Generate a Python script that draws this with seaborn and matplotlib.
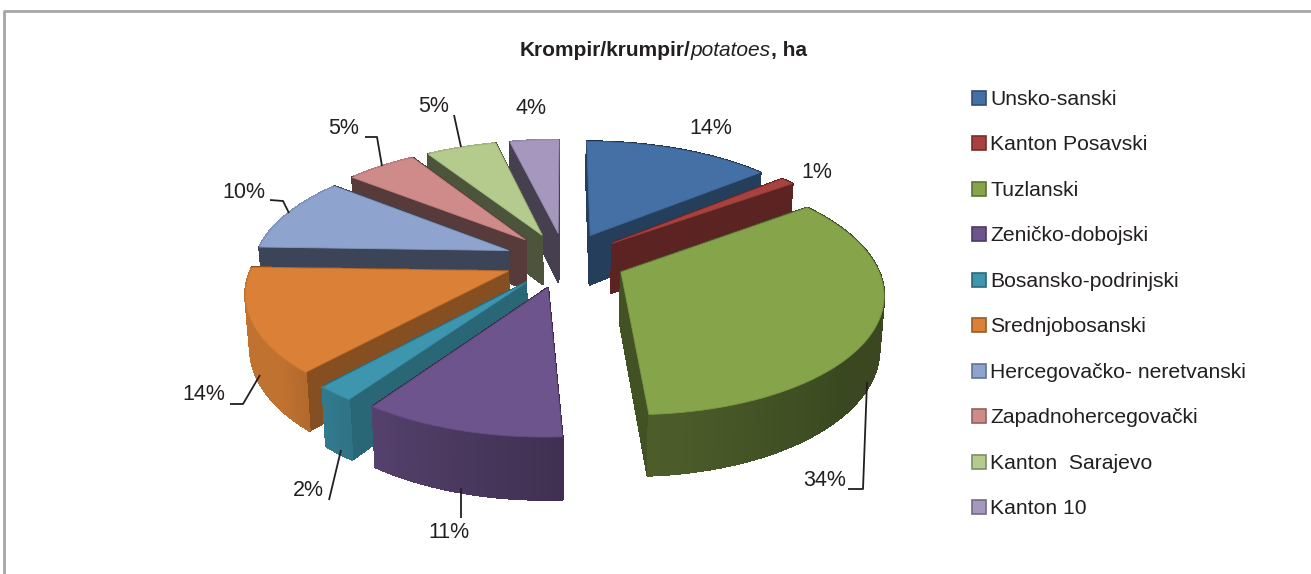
import numpy as np
import matplotlib
matplotlib.use("Agg")
import matplotlib.pyplot as plt
import seaborn as sns
from matplotlib.collections import PolyCollection
from matplotlib.patches import Patch

cantons = ["Unsko-sanski", "Kanton Posavski", "Tuzlanski", "Zeničko-dobojski",
           "Bosansko-podrinjski", "Srednjobosanski", "Hercegovačko- neretvanski",
           "Zapadnohercegovački", "Kanton  Sarajevo", "Kanton 10"]
# labels show them rounded
shares = [14, 1, 34.1, 10.5, 2, 13.9, 10.2, 5.3, 5.3, 3.7]

top_colors = ["#4470A5", "#A8423F", "#86A44A", "#6E548D", "#3D96AE",
              "#DA8137", "#8EA4CF", "#CF8B89", "#B5CB8E", "#A597BD"]
side_shade = [0.55, 0.54, 0.50, 0.50, 0.68, 0.61, 0.42, 0.42, 0.42, 0.42]

# label centre and leader line, in figure pixels
label_pos = [(711, 128), (817, 172), (825, 480), (449, 533), (308, 491),
             (204, 395), (244, 192), (344, 128), (434, 107), (531, 109)]
leaders = [None, None,
           [(848, 489), (863, 489), (867, 382)],
           [(461, 518), (461, 488)],
           [(329, 500), (341, 450)],
           [(230, 404), (243, 404), (260, 375)],
           [(270, 200), (283, 201), (289, 213)],
           [(365, 137), (377, 137), (382, 166)],
           [(454, 115), (461, 147)],
           None]

# fake 3d camera, fitted on the picture
CX, CY = 565, 260
SX, SY = 254, 116
PERSP = 0.157
DEPTH = 50.5
TXT = "#231F20"

sns.set_theme(style="white")
plt.rcParams["font.family"] = ["Liberation Sans", "DejaVu Sans"]


def project(x, y, low=False):
    s = 1 / (1 + PERSP * y)
    sx = SX * x * s
    if low:
        sx = sx * 0.985
    return CX + sx, CY - SY * y * s + (DEPTH * s if low else 0)


def outer_shade(clock):
    return np.interp(clock, [0, 130, 176, 216, 230, 360],
                     [0.43, 0.43, 0.57, 0.78, 0.88, 0.88])


def darker(color, k):
    return tuple(c * k for c in matplotlib.colors.to_rgb(color))


fig = plt.figure(figsize=(13.11, 5.74), dpi=100, facecolor="white")
ax = fig.add_axes([0, 0, 1, 1])

# the pie gives the angles and the exploded centres
wedges, _ = ax.pie(shares, startangle=90, counterclock=False,
                   explode=[0.24] * len(shares), radius=1)
for w in wedges:
    w.set_visible(False)

ax.set_aspect("auto")
ax.set_xlim(0, 1311)
ax.set_ylim(574, 0)
ax.axis("off")

order = sorted(range(len(wedges)), key=lambda i: -wedges[i].center[1])
for n, i in enumerate(order):
    w = wedges[i]
    gx, gy = w.center
    a = np.radians(np.linspace(w.theta1, w.theta2, 60))
    rx, ry = gx + w.r * np.cos(a), gy + w.r * np.sin(a)

    faces = []
    # outer rim, small quads
    for j in range(len(a) - 1):
        clock = (90 - np.degrees(a[j:j + 2].mean())) % 360
        p = [project(rx[j], ry[j]), project(rx[j + 1], ry[j + 1]),
             project(rx[j + 1], ry[j + 1], True), project(rx[j], ry[j], True)]
        faces.append((ry[j:j + 2].mean(), p, darker(top_colors[i], outer_shade(clock))))
    # the two cut sides
    for ex, ey in [(rx[0], ry[0]), (rx[-1], ry[-1])]:
        p = [project(gx, gy), project(ex, ey), project(ex, ey, True), project(gx, gy, True)]
        faces.append(((gy + ey) / 2, p, darker(top_colors[i], side_shade[i])))
    faces.sort(key=lambda f: -f[0])

    walls = PolyCollection([f[1] for f in faces], facecolors=[f[2] for f in faces],
                           edgecolors=[f[2] for f in faces], linewidths=1.0,
                           antialiaseds=False, zorder=2 + n * 0.1)
    ax.add_collection(walls)

    tx, ty = project(np.r_[gx, rx, gx], np.r_[gy, ry, gy])
    ax.fill(tx, ty, facecolor=top_colors[i], edgecolor=darker(top_colors[i], 0.92),
            linewidth=0.6, zorder=2.05 + n * 0.1)

for share, pos, line in zip(shares, label_pos, leaders):
    ax.text(pos[0], pos[1], f"{np.floor(share + 0.5):.0f}%", ha="center", va="center",
            fontsize=15.5, color=TXT, zorder=5)
    if line:
        ax.plot(*zip(*line), color=TXT, lw=1.3, zorder=5, solid_capstyle="butt")

# frame, only top and left are in the picture
ax.plot([4, 4, 1311], [574, 11, 11], color="#A6A6A6", lw=2, zorder=1, clip_on=False)

# title, three font styles on one baseline
renderer = fig.canvas.get_renderer()
title_x = 520
for part, style in [("Krompir/krumpir/", dict(fontweight="bold")),
                    ("potatoes", dict(fontstyle="italic")),
                    (", ha", dict(fontweight="bold"))]:
    t = ax.text(title_x, 56, part, fontsize=15, color=TXT, ha="left", va="baseline", **style)
    title_x = ax.transData.inverted().transform(t.get_window_extent(renderer).get_points())[1, 0]

handles = [Patch(facecolor=c, edgecolor=darker(c, 0.7), linewidth=1.2) for c in top_colors]
ax.legend(handles, cantons, loc="upper left", bbox_to_anchor=(972 / 1311, 1 - 90 / 574),
          frameon=False, fontsize=15.2, labelcolor=TXT, handlelength=0.64, handleheight=0.64,
          handletextpad=0.22, labelspacing=1.255, borderpad=0, borderaxespad=0)

fig.savefig("out.png", dpi=100)
